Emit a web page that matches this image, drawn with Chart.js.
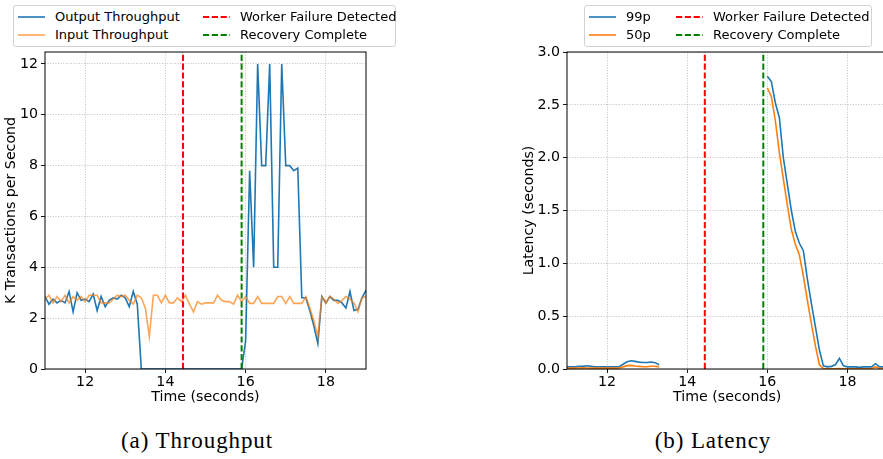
<!DOCTYPE html>
<html><head><meta charset="utf-8">
<script src="https://cdn.jsdelivr.net/npm/chart.js@4"></script>
<style>
html,body{margin:0;padding:0;}
body{width:883px;height:459px;overflow:hidden;background:#fff;position:relative;font-family:"DejaVu Sans",sans-serif;}
.wrap{position:absolute;top:0;}
.legend{position:absolute;top:5px;height:40px;border:1px solid #d2d2d2;border-radius:3px;background:#fff;font-size:13px;color:#000;}
.item{position:absolute;height:16px;line-height:16px;white-space:nowrap;}
.item svg{position:absolute;left:0;top:0;}
.item span{position:absolute;left:37px;top:0;}
.cap{position:absolute;top:428px;font-family:"Liberation Serif",serif;font-size:23px;line-height:26px;letter-spacing:0.9px;transform:translateX(-50%);white-space:nowrap;color:#000;}
</style></head>
<body>
<div class="wrap" style="left:0px;width:400px;height:420px;"><canvas id="c1" width="400" height="420"></canvas></div>
<div class="wrap" style="left:518px;width:390px;height:420px;"><canvas id="c2" width="390" height="420"></canvas></div>
<div class="legend" id="leg1" style="left:13px;width:381px;"></div>
<div class="legend" id="leg2" style="left:584px;width:286px;"></div>
<div class="cap" style="left:197px;">(a) Throughput</div>
<div class="cap" style="left:713px;">(b) Latency</div>
<script>
const times = [11.0,11.1,11.2,11.3,11.4,11.5,11.6,11.7,11.8,11.9,
  12.0,12.1,12.2,12.3,12.4,12.5,12.6,12.7,12.8,12.9,
  13.0,13.1,13.2,13.3,13.4,13.5,13.6,13.7,13.8,13.9,
  14.0,14.1,14.2,14.3,14.4,14.5,14.6,14.7,14.8,14.9,
  15.0,15.1,15.2,15.3,15.4,15.5,15.6,15.7,15.8,15.9,
  16.0,16.1,16.2,16.3,16.4,16.5,16.6,16.7,16.8,16.9,
  17.0,17.1,17.2,17.3,17.4,17.5,17.6,17.7,17.8,17.9,
  18.0,18.1,18.2,18.3,18.4,18.5,18.6,18.7,18.8,18.9,
  19.0];

const outputThroughput = [2.85,2.55,2.75,2.6,2.7,2.6,3.05,2.25,3.0,2.7,
  2.75,2.65,2.95,2.3,2.85,2.45,2.7,2.8,2.75,2.9,
  2.8,2.45,3.05,2.55,0,0,0,0,0,0,
  0,0,0,0,0,0,0,0,0,0,
  0,0,0,0,0,0,0,0,0,0,
  1.1,7.8,4.0,12,8,8,12,4,4,12,
  8,8,7.8,7.9,2.8,2.8,2.3,1.7,1.0,2.85,
  2.6,2.85,2.7,2.7,2.6,2.4,3.05,2.3,2.35,2.8,
  3.1];

const inputThroughput = [2.75,2.9,2.6,2.85,2.65,2.9,2.6,2.85,2.7,2.85,
  2.65,2.9,2.9,2.9,2.6,2.6,2.6,2.75,2.9,2.85,
  2.9,2.7,2.55,2.9,2.8,2.4,1.27,2.9,2.9,2.6,
  2.9,2.6,2.6,2.8,2.65,2.9,2.55,2.25,2.65,2.55,
  2.6,2.6,2.6,2.9,2.7,2.65,2.65,2.55,2.9,2.65,
  2.85,2.58,2.58,2.85,2.58,2.58,2.58,2.58,2.85,2.85,
  2.58,2.85,2.58,2.58,2.58,2.85,2.4,1.9,1.27,2.85,
  2.6,2.85,2.75,2.58,2.7,2.85,2.75,2.6,2.25,2.8,
  2.85];

const latency99 = [0.02,0.02,0.02,0.025,0.025,0.03,0.025,0.02,0.02,0.02,
  0.02,0.02,0.02,0.022,0.045,0.068,0.078,0.072,0.065,0.062,
  0.062,0.066,0.06,0.04,null,null,null,null,null,null,
  null,null,null,null,null,null,null,null,null,null,
  null,null,null,null,null,null,null,null,null,null,
  2.77,2.72,2.52,2.38,2.0,1.75,1.5,1.3,1.19,1.12,
  0.85,0.62,0.4,0.18,0.03,0.02,0.025,0.04,0.1,0.03,
  0.02,0.02,0.02,0.015,0.02,0.02,0.02,0.05,0.02,0.02,
  0.02];

const latency50 = [0.008,0.01,0.008,0.01,0.012,0.01,0.008,0.008,0.01,0.008,
  0.008,0.008,0.008,0.01,0.02,0.032,0.034,0.028,0.025,0.022,
  0.022,0.026,0.026,0.02,null,null,null,null,null,null,
  null,null,null,null,null,null,null,null,null,null,
  null,null,null,null,null,null,null,null,null,null,
  2.66,2.58,2.35,2.05,1.8,1.55,1.32,1.18,1.08,0.88,
  0.65,0.43,0.22,0.04,0.005,0.003,0.003,0.003,0.004,0.003,
  0.003,0.003,0.003,0.003,0.003,0.003,0.004,0.02,0.004,0.004,
  0.004];

const failureTime = 14.44;
const recoveryTime = 15.9;
const xTickValues = [12, 14, 16, 18];
const throughputTickValues = [0, 2, 4, 6, 8, 10, 12];
const latencyTickValues = [0, 0.5, 1.0, 1.5, 2.0, 2.5, 3.0];

const BLUE = '#1f77b4';
const ORANGE = '#ff7f0e';
const ORANGE_LIGHT = 'rgba(255,127,14,0.7)';
const markers = [
  {time: failureTime, color: '#ff0000', label: 'Worker Failure Detected'},
  {time: recoveryTime, color: '#008000', label: 'Recovery Complete'}
];

const FONT = {family: '"DejaVu Sans", sans-serif', size: 14.2};

const overlay = {
  id: 'overlay',
  afterDatasetsDraw(chart) {
    const {ctx, chartArea: a} = chart;
    const x = chart.scales.x;
    ctx.save();
    ctx.beginPath();
    ctx.rect(a.left, a.top, a.right - a.left, a.bottom - a.top);
    ctx.clip();
    markers.forEach(m => {
      const px = x.getPixelForValue(m.time);
      ctx.strokeStyle = m.color;
      ctx.lineWidth = 2;
      ctx.setLineDash([6.2, 2.6]);
      ctx.beginPath();
      ctx.moveTo(px, a.bottom);
      ctx.lineTo(px, a.top);
      ctx.stroke();
    });
    ctx.restore();
  },
  afterDraw(chart) {
    const {ctx, chartArea: a} = chart;
    ctx.save();
    ctx.strokeStyle = '#000';
    ctx.lineWidth = 1;
    ctx.setLineDash([]);
    ctx.strokeRect(a.left, a.top, a.right - a.left, a.bottom - a.top);
    ctx.restore();
  }
};

function toPoints(arr) { return times.map((t, i) => ({x: t, y: arr[i]})); }

function gridCfg() {
  return {
    color: '#b0b0b0', lineWidth: 0.8, borderDash: [1, 1.6],
    drawTicks: true, tickLength: 4, tickColor: '#000', tickWidth: 0.9, tickBorderDash: []
  };
}

function makeChart(id, datasets, yMax, yTicks, yTitle, yFmt, yWidth, padRight) {
  return new Chart(document.getElementById(id), {
    type: 'line',
    data: {datasets: datasets},
    plugins: [overlay],
    options: {
      responsive: false, animation: false, devicePixelRatio: 1,
      layout: {padding: {top: 52, right: padRight, bottom: 11, left: 0}},
      plugins: {legend: {display: false}, tooltip: {enabled: false}},
      elements: {point: {radius: 0}, line: {tension: 0, borderWidth: 1.6}},
      scales: {
        x: {
          type: 'linear', min: 11, max: 19,
          afterBuildTicks: s => { s.ticks = xTickValues.map(v => ({value: v})); },
          afterFit: s => { s.height = 40; },
          grid: gridCfg(),
          border: {display: false, dash: [1, 1.6]},
          ticks: {color: '#000', font: FONT, padding: 1, maxRotation: 0, callback: v => String(v)},
          title: {display: true, text: 'Time (seconds)', color: '#000', font: FONT, padding: {top: 0, bottom: 3}}
        },
        y: {
          type: 'linear', min: 0, max: yMax,
          afterBuildTicks: s => { s.ticks = yTicks.map(v => ({value: v})); },
          afterFit: s => { s.width = yWidth; },
          grid: gridCfg(),
          border: {display: false, dash: [1, 1.6]},
          ticks: {color: '#000', font: FONT, padding: 3, callback: yFmt},
          title: {display: true, text: yTitle, color: '#000', font: FONT, padding: {top: 3, bottom: 0}}
        }
      }
    }
  });
}

const ds1 = [
  {label: 'Output Throughput', data: toPoints(outputThroughput), borderColor: BLUE, order: 1},
  {label: 'Input Throughput', data: toPoints(inputThroughput), borderColor: ORANGE_LIGHT, order: 0}
];
const ds2 = [
  {label: '99p', data: toPoints(latency99), borderColor: BLUE, order: 1},
  {label: '50p', data: toPoints(latency50), borderColor: ORANGE, order: 0}
];

makeChart('c1', ds1, 12.47, throughputTickValues, 'K Transactions per Second', v => String(v), 45, 34);
makeChart('c2', ds2, 3.0, latencyTickValues, 'Latency (seconds)', v => Number(v).toFixed(1), 49, 20.5);

function buildLegend(elId, datasets, col2Left) {
  const el = document.getElementById(elId);
  const entries = [
    {label: datasets[0].label, color: datasets[0].borderColor, dash: null, left: 4, top: 3},
    {label: datasets[1].label, color: datasets[1].borderColor, dash: null, left: 4, top: 21},
    {label: markers[0].label, color: markers[0].color, dash: '6.2,2.6', left: col2Left, top: 3},
    {label: markers[1].label, color: markers[1].color, dash: '6.2,2.6', left: col2Left, top: 21}
  ];
  entries.forEach(e => {
    const d = document.createElement('div');
    d.className = 'item';
    d.style.left = e.left + 'px';
    d.style.top = e.top + 'px';
    const w = e.dash ? 2 : 1.6;
    d.innerHTML = '<svg width="27" height="16"><line x1="0" y1="8" x2="27" y2="8" stroke="' + e.color +
      '" stroke-width="' + w + '"' + (e.dash ? ' stroke-dasharray="' + e.dash + '"' : '') + '/></svg>' +
      '<span></span>';
    d.querySelector('span').textContent = e.label;
    el.appendChild(d);
  });
}
buildLegend('leg1', ds1, 189);
buildLegend('leg2', ds2, 91);
</script>
</body></html>
